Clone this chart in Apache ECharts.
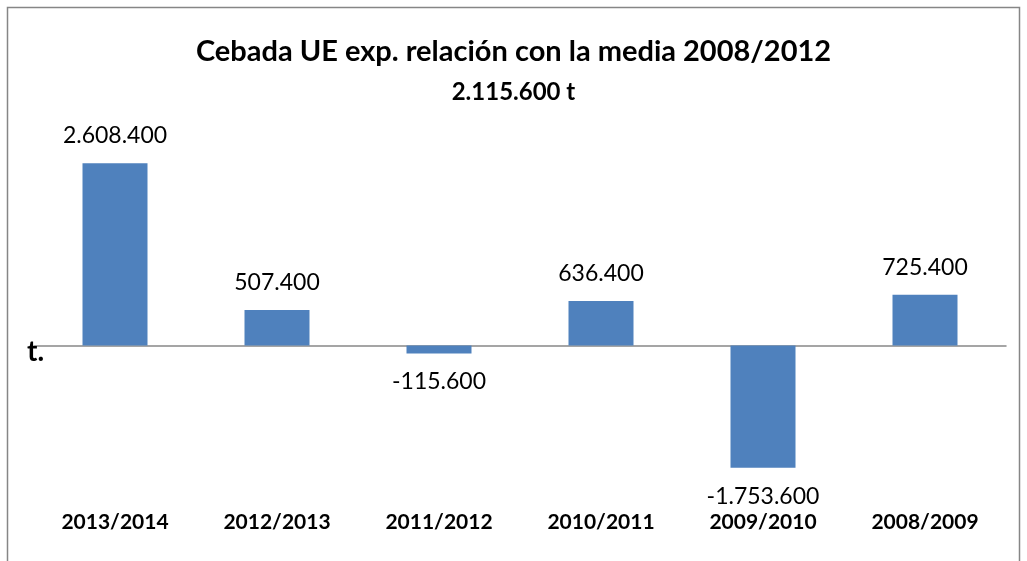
<!DOCTYPE html>
<html>
<head>
<meta charset="utf-8">
<script src="https://cdn.jsdelivr.net/npm/echarts@6/dist/echarts.min.js"></script>
<style>
  html, body { margin: 0; padding: 0; background: #fff; }
  #chart { width: 1027px; height: 561px; }
</style>
</head>
<body>
<div id="chart"></div>
<script>
// campañas y diferencia con la media 2008/2012
var campanas = ['2013/2014', '2012/2013', '2011/2012', '2010/2011', '2009/2010', '2008/2009'];
var diferencias = [2608400, 507400, -115600, 636400, -1753600, 725400];

function fmt(v){
  var s = Math.abs(v).toString().replace(/\B(?=(\d{3})+(?!\d))/g, '.');
  return (v < 0 ? '-' : '') + s;
}

window.onload = function(){
  var myChart = echarts.init(document.getElementById('chart'));
  var datos = diferencias.map(function(v){
    return {
      value: v,
      label: v < 0 ? { position: 'bottom', distance: 17 } : { position: 'top', distance: 16 }
    };
  });
  myChart.setOption({
    animation: false,
    textStyle: { fontFamily: 'Lato' },
    graphic: [{
      type: 'rect',
      shape: { x: 7.5, y: 7.5, width: 1012, height: 600 },
      style: { fill: 'none', stroke: '#868686', lineWidth: 1.5 },
      silent: true
    }],
    title: [{
      text: 'Cebada UE exp. relación con la media 2008/2012',
      left: 'center', top: 32,
      textStyle: { fontFamily: 'Lato', fontSize: 29, fontWeight: 'bold', color: '#000' }
    }, {
      text: '2.115.600 t',
      left: 'center', top: 75,
      textStyle: { fontFamily: 'Lato', fontSize: 24, fontWeight: 'bold', color: '#000' }
    }, {
      text: 't.',
      left: 22, top: 333,
      textStyle: { fontFamily: 'Lato', fontSize: 28, fontWeight: 'bold', color: '#000' }
    }],
    grid: { left: 34, right: 21, top: 136, height: 370 },
    xAxis: [{
      type: 'category',
      data: campanas,
      axisLine: { onZero: true, lineStyle: { color: '#888', width: 1.5 } },
      axisTick: { show: false },
      axisLabel: { show: false }
    }, {
      type: 'category',
      data: campanas,
      position: 'bottom',
      axisLine: { show: false },
      axisTick: { show: false },
      axisLabel: { margin: 6, fontFamily: 'Lato', fontSize: 21, fontWeight: 'bold', color: '#000' }
    }],
    yAxis: {
      type: 'value',
      min: -2300000, max: 3000000,
      show: false,
      splitLine: { show: false }
    },
    series: [{
      type: 'bar',
      xAxisIndex: 0,
      data: datos,
      barWidth: 65,
      itemStyle: { color: '#4F81BD' },
      label: {
        show: true,
        fontFamily: 'Lato', fontSize: 23, color: '#000',
        formatter: function(p){ return fmt(p.value); }
      }
    }]
  });
};
</script>
</body>
</html>
